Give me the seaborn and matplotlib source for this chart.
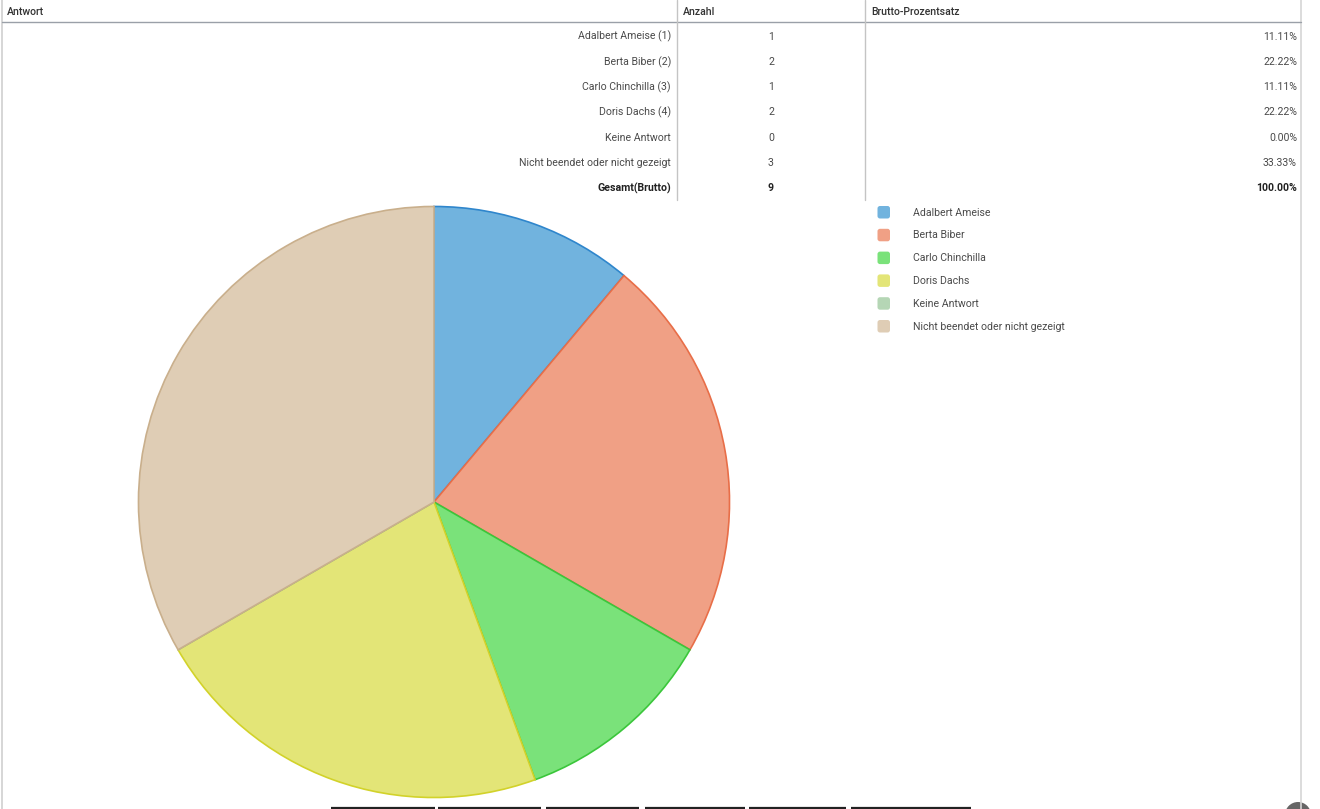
import matplotlib
matplotlib.use("Agg")
import matplotlib.pyplot as plt
from matplotlib.patches import FancyBboxPatch, Circle
import seaborn as sns

sns.set_theme(style="white")
plt.rcParams['font.family'] = ['Roboto', 'DejaVu Sans']

# ---------------- data ----------------
answers = ["Adalbert Ameise (1)", "Berta Biber (2)", "Carlo Chinchilla (3)",
           "Doris Dachs (4)", "Keine Antwort", "Nicht beendet oder nicht gezeigt"]
legend_labels = ["Adalbert Ameise", "Berta Biber", "Carlo Chinchilla",
                 "Doris Dachs", "Keine Antwort", "Nicht beendet oder nicht gezeigt"]
counts = [1, 2, 1, 2, 0, 3]
percents = ["11.11%", "22.22%", "11.11%", "22.22%", "0.00%", "33.33%"]
total_label = "Gesamt(Brutto)"
total_count = 9
total_percent = "100.00%"
headers = ["Antwort", "Anzahl", "Brutto-Prozentsatz"]

fill_colors = sns.color_palette(["#71B3DE", "#F0A085", "#7AE27A",
                                 "#E3E577", "#B5D6B5", "#DFCDB5"])
edge_colors = ["#2F86CC", "#E86E48", "#3BC63B", "#D2D22A", "#8FC08F", "#C9AF8C"]

W, H = 1320, 809
fig = plt.figure(figsize=(W / 100, H / 100), dpi=100)
fig.patch.set_facecolor("white")

# background / layout axes in pixel coordinates
bg = fig.add_axes([0, 0, 1, 1])
bg.set_xlim(0, W)
bg.set_ylim(H, 0)
bg.axis("off")

txt_col = "#4a4a4a"
hdr_col = "#333333"
fs = 7.6

# page borders
bg.plot([1.5, 1.5], [0, H], color="#cfcfcf", lw=1.2)
bg.plot([1301, 1301], [0, H], color="#d6d6d6", lw=1.2)
# table lines
bg.plot([2, 1301], [22, 22], color="#9aa0a8", lw=1.0)
bg.plot([677, 677], [0, 200], color="#c4c4c4", lw=1.0)
bg.plot([865, 865], [0, 200], color="#c4c4c4", lw=1.0)

# header
hx = [7, 683, 871]
for x, h in zip(hx, headers):
    bg.text(x, 11.5, h, ha="left", va="center", fontsize=fs, color=hdr_col,
            fontweight="medium")

row_y0, row_dy = 36.5, 25.3
for i, (a, c, p) in enumerate(zip(answers, counts, percents)):
    y = row_y0 + i * row_dy
    bg.text(671, y, a, ha="right", va="center", fontsize=fs, color=txt_col)
    bg.text(771, y, str(c), ha="center", va="center", fontsize=fs, color=txt_col)
    bg.text(1297, y, p, ha="right", va="center", fontsize=fs, color=txt_col)
y = row_y0 + len(answers) * row_dy
bg.text(671, y, total_label, ha="right", va="center", fontsize=fs,
        color="#222222", fontweight="bold")
bg.text(771, y, str(total_count), ha="center", va="center", fontsize=fs,
        color="#222222", fontweight="bold")
bg.text(1297, y, total_percent, ha="right", va="center", fontsize=fs,
        color="#222222", fontweight="bold")

# legend
leg_y0, leg_dy = 212.5, 22.8
for i, (lab, col) in enumerate(zip(legend_labels, fill_colors)):
    y = leg_y0 + i * leg_dy
    bg.add_patch(FancyBboxPatch((877.5, y - 6.5), 12.5, 12.5,
                                boxstyle="round,pad=0,rounding_size=2.5",
                                facecolor=col, edgecolor="none"))
    bg.text(913, y, lab, ha="left", va="center", fontsize=fs, color=txt_col)

# bottom details (button tops and scroll circle)
for x0, x1 in [(331, 435), (438, 541), (546, 639), (645, 745), (749, 846), (851, 971)]:
    bg.plot([x0, x1], [808.2, 808.2], color="#222222", lw=1.6, solid_capstyle="butt")
bg.add_patch(Circle((1298, 815), 13, facecolor="#666666", edgecolor="none"))

# pie
cx, cy, r = 434, 502, 297
pie_ax = fig.add_axes([(cx - r) / W, (H - cy - r) / H, 2 * r / W, 2 * r / H])
wedges, _ = pie_ax.pie(counts, colors=fill_colors, startangle=90,
                       counterclock=False,
                       wedgeprops=dict(linewidth=1.2))
for w, ec in zip(wedges, edge_colors):
    w.set_edgecolor(ec)
pie_ax.set_xlim(-1.005, 1.005)
pie_ax.set_ylim(-1.005, 1.005)
pie_ax.set_aspect("equal")
pie_ax.axis("off")

fig.savefig("out.png", dpi=100, facecolor="white")
